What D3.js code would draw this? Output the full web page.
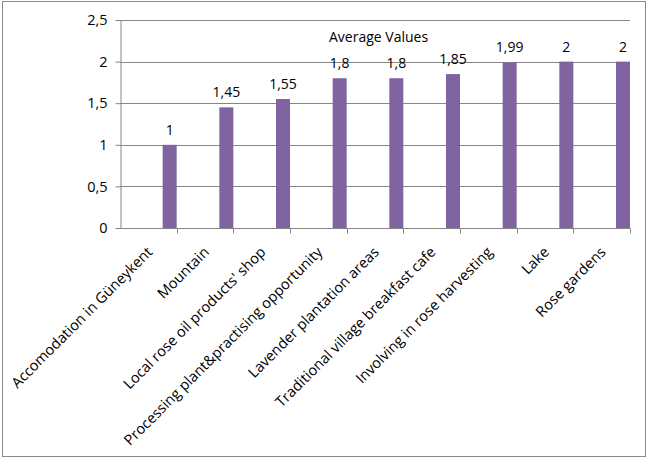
<!DOCTYPE html>
<html lang="en">
<head>
<meta charset="UTF-8">
<title>Average Values</title>
<script src="https://d3js.org/d3.v7.min.js"></script>
<style>
  body { margin: 0; background: #fff; }
  svg { display: block; font-family: "Open Sans", Lato, sans-serif; }
</style>
</head>
<body>
<script>
// Data
const categories = [
  "Accomodation in Güneykent",
  "Mountain",
  "Local rose oil products' shop",
  "Processing plant&practising opportunity",
  "Lavender plantation areas",
  "Traditional village breakfast cafe",
  "Involving in rose harvesting",
  "Lake",
  "Rose gardens"
];
const values = [1, 1.45, 1.55, 1.8, 1.8, 1.85, 1.99, 2, 2];
const yTicks = [0, 0.5, 1, 1.5, 2, 2.5];
const seriesName = "Average Values";

const width = 650, height = 458;
const margin = { top: 20, right: 20, bottom: 230, left: 120 };

const svg = d3.select("body").append("svg")
  .attr("width", width)
  .attr("height", height);

// outer frame
svg.append("rect")
  .attr("x", 2.5).attr("y", 1.5)
  .attr("width", 643).attr("height", 455)
  .attr("fill", "none")
  .attr("stroke", "#8a8a8a");

const x = d3.scaleBand()
  .domain(categories)
  .range([margin.left, width - margin.right])
  .padding(0);

const y = d3.scaleLinear()
  .domain([0, 2.5])
  .range([height - margin.bottom, margin.top]);

const fmt = v => String(v).replace(".", ",");

// gridlines
svg.append("g")
  .selectAll("line")
  .data(yTicks.filter(d => d > 0))
  .join("line")
  .attr("x1", margin.left).attr("x2", width - margin.right)
  .attr("y1", d => Math.round(y(d)) + 0.5)
  .attr("y2", d => Math.round(y(d)) + 0.5)
  .attr("stroke", "#868686");

// y axis
const yAxis = svg.append("g")
  .attr("transform", `translate(${margin.left + 0.5},0)`)
  .call(d3.axisLeft(y).tickValues(yTicks).tickFormat(fmt).tickSize(5).tickPadding(8));
yAxis.select(".domain").attr("stroke", "#868686");
yAxis.selectAll(".tick line").attr("stroke", "#868686");
yAxis.selectAll("text").attr("font-size", 14.5).attr("fill", "#000")
  .attr("font-family", "'Open Sans', Lato, sans-serif");

// x axis with ticks at band boundaries
const xBase = Math.round(y(0)) + 0.5;
svg.append("line")
  .attr("x1", margin.left).attr("x2", width - margin.right)
  .attr("y1", xBase).attr("y2", xBase)
  .attr("stroke", "#868686");
svg.append("g")
  .selectAll("line")
  .data(categories)
  .join("line")
  .attr("x1", d => Math.round(x(d) + x.bandwidth()) + 0.5)
  .attr("x2", d => Math.round(x(d) + x.bandwidth()) + 0.5)
  .attr("y1", xBase).attr("y2", xBase + 5)
  .attr("stroke", "#868686");

// bars (sit at the right side of each category slot)
const barW = 14;
svg.append("g")
  .selectAll("rect")
  .data(values)
  .join("rect")
  .attr("x", (d, i) => x(categories[i]) + x.bandwidth() - barW)
  .attr("y", d => y(d))
  .attr("width", barW)
  .attr("height", d => y(0) - y(d))
  .attr("fill", "#8064A2");

// value labels
svg.append("g")
  .selectAll("text")
  .data(values)
  .join("text")
  .attr("x", (d, i) => x(categories[i]) + x.bandwidth() - barW / 2)
  .attr("y", d => y(d) - 10)
  .attr("text-anchor", "middle")
  .attr("font-size", 14)
  .text(fmt);

// category labels
svg.append("g")
  .selectAll("text")
  .data(categories)
  .join("text")
  .attr("transform", d => `translate(${x(d) + x.bandwidth() / 2 + 5},${y(0) + 25}) rotate(-45)`)
  .attr("text-anchor", "end")
  .attr("font-size", 14.6)
  .text(d => d);

// legend
svg.append("text")
  .attr("x", 329).attr("y", 42)
  .attr("font-size", 14)
  .text(seriesName);
</script>
</body>
</html>
